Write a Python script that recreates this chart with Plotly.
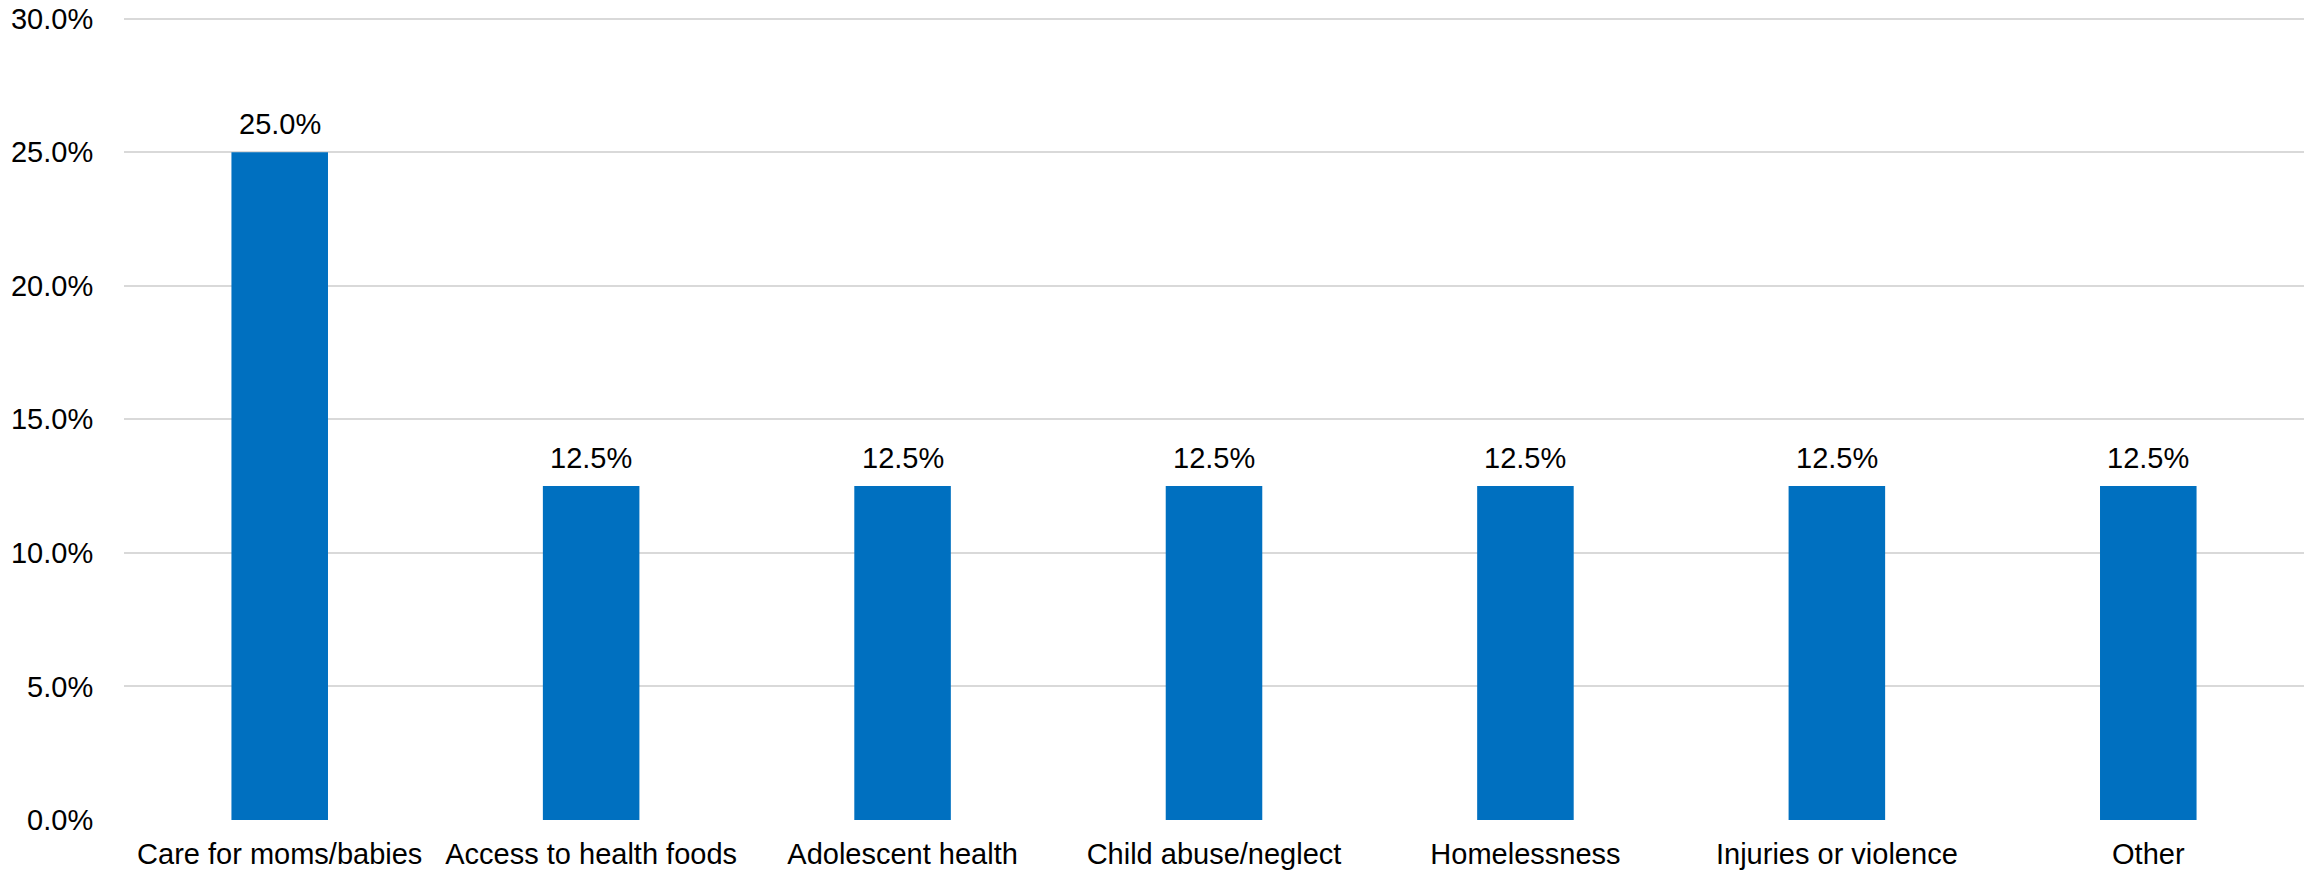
import plotly.graph_objects as go

categories = [
    "Care for moms/babies",
    "Access to health foods",
    "Adolescent health",
    "Child abuse/neglect",
    "Homelessness",
    "Injuries or violence",
    "Other",
]
shares = [25.0, 12.5, 12.5, 12.5, 12.5, 12.5, 12.5]
y_ticks = [0, 5, 10, 15, 20, 25, 30]
y_tick_labels = [f"{v:.1f}%" for v in y_ticks]

FONT = "Liberation Sans, Arial, sans-serif"
BAR_COLOR = "#0070C0"

fig = go.Figure(
    go.Bar(
        x=categories,
        y=shares,
        marker=dict(color=BAR_COLOR, line=dict(width=0)),
        hoverinfo="skip",
    )
)

# value labels sitting above each bar
for cat, val in zip(categories, shares):
    fig.add_annotation(
        x=cat, y=val, text=f"{val:.1f}%",
        showarrow=False, yanchor="bottom", yshift=10,
        font=dict(family=FONT, size=29, color="#000000"),
    )

fig.update_layout(
    width=2318, height=872,
    margin=dict(l=124, r=14, t=16, b=52, autoexpand=False),
    paper_bgcolor="white", plot_bgcolor="white",
    bargap=0.69,
    showlegend=False,
    font=dict(family=FONT, size=29, color="#000000"),
)
fig.update_xaxes(
    showgrid=False, zeroline=False, showline=False,
    ticks="outside", ticklen=8, tickcolor="rgba(0,0,0,0)",
    tickfont=dict(family=FONT, size=29, color="#000000"),
)
# range runs a touch past 30% so the top gridline is drawn
fig.update_yaxes(
    range=[0, 30.1], tickvals=y_ticks, ticktext=y_tick_labels,
    showgrid=True, gridcolor="#D9D9D9", gridwidth=2,
    zeroline=False, showline=False,
    ticks="outside", ticklen=24, tickcolor="rgba(0,0,0,0)",
    tickfont=dict(family=FONT, size=29, color="#000000"),
)

fig.write_html("out.html")
